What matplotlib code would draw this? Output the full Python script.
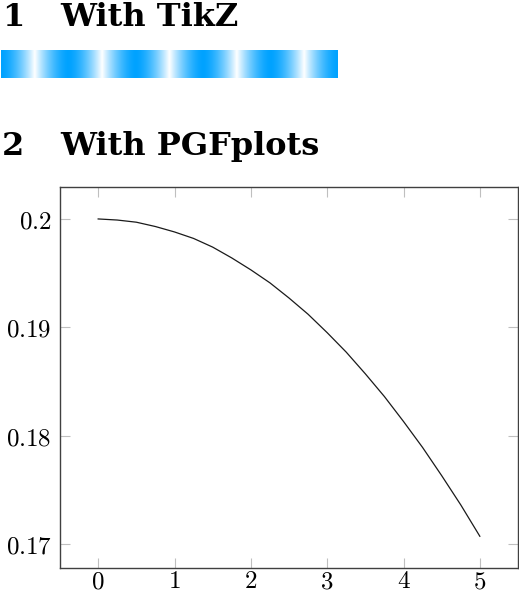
import numpy as np
import matplotlib.pyplot as plt

plt.rcParams['mathtext.fontset'] = 'cm'

# curve
x_vals = [0, 0.25, 0.5, 0.75, 1, 1.25, 1.5, 1.75, 2, 2.25, 2.5,
          2.75, 3, 3.25, 3.5, 3.75, 4, 4.25, 4.5, 4.75, 5]
y_vals = [0.2000, 0.1999, 0.1997, 0.1993, 0.1988, 0.1982, 0.1974,
          0.1964, 0.1953, 0.1941, 0.1927, 0.1912, 0.1895, 0.1877,
          0.1857, 0.1836, 0.1813, 0.1789, 0.1763, 0.1736, 0.1707]
x_ticks = [0, 1, 2, 3, 4, 5]
y_ticks = [0.17, 0.18, 0.19, 0.2]
y_tick_labels = ['0.17', '0.18', '0.19', '0.2']

# gradient strip: blue -> white -> blue, five repeats
n_repeats = 5
blue = np.array([0, 162, 255]) / 255.0
white = np.array([1.0, 1.0, 1.0])

W, H = 519, 593
fig = plt.figure(figsize=(W / 100, H / 100), dpi=100)


def px(x, y):
    return x / W, 1 - y / H


# headings
head = dict(fontsize=23, va='baseline', ha='left', family='DejaVu Serif',
            fontweight='bold')
fig.text(*px(2, 26), '1', **head)
fig.text(*px(60, 26), 'With TikZ', **head)
fig.text(*px(2, 155), '2', **head)
fig.text(*px(60, 155), 'With PGFplots', **head)

# gradient bar
gax = fig.add_axes([1 / W, 1 - 78 / H, 337 / W, 28 / H])
t = np.linspace(0, n_repeats, 1200)
d = 1 - np.abs(2 * (t % 1) - 1)        # 0 at blue, 1 at white
d = d ** 1.6
strip = blue[None, :] * (1 - d[:, None]) + white[None, :] * d[:, None]
gax.imshow(strip[None, :, :], aspect='auto', interpolation='bilinear')
gax.axis('off')

# pgfplots-like axis
ax = fig.add_axes([60 / W, 1 - 568 / H, 458 / W, 381 / H])
ax.plot(x_vals, y_vals, color='#1a1a1a', lw=0.9)
ax.set_xlim(-0.5, 5.5)
ax.set_ylim(0.16777, 0.20295)
ax.set_xticks(x_ticks)
ax.set_xticklabels([f'${v}$' for v in x_ticks])
ax.set_yticks(y_ticks)
ax.set_yticklabels([f'${v}$' for v in y_tick_labels])
ax.tick_params(direction='in', length=7, width=0.8, color='#bfbfbf',
               top=True, right=True, labelsize=18)
ax.tick_params(axis='x', pad=1)
ax.tick_params(axis='y', pad=6)
for s in ax.spines.values():
    s.set_color('#404040')
    s.set_linewidth(1.0)

fig.savefig('out.png', dpi=100)
